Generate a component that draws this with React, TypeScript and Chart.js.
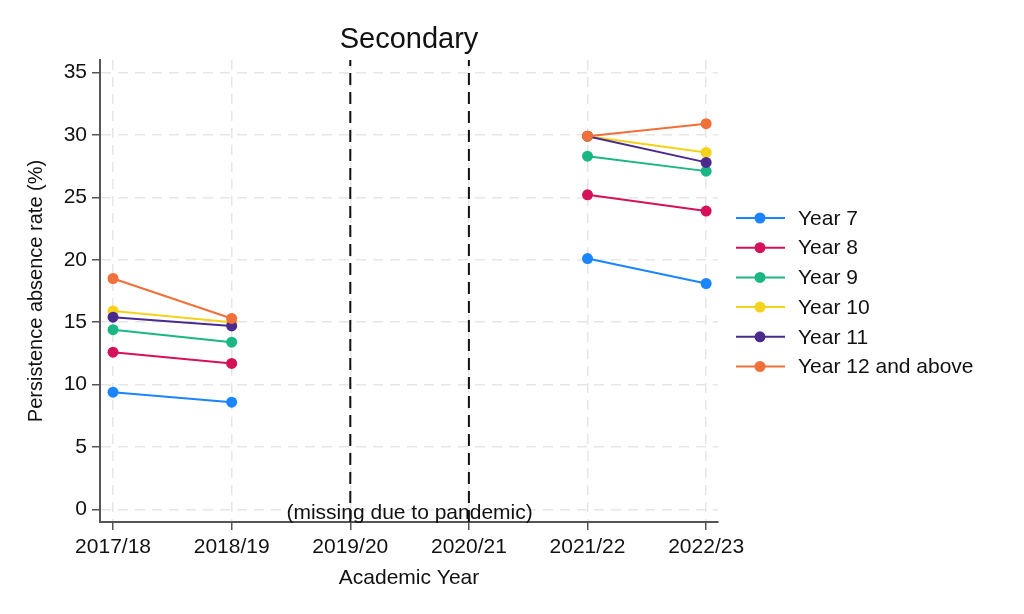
import { useEffect, useRef } from "react";
import { Chart, registerables } from "chart.js";

Chart.register(...registerables);

const FONT = '"Liberation Sans", Arial, Helvetica, sans-serif';

// Academic years on the x axis
const years = ["2017/18", "2018/19", "2019/20", "2020/21", "2021/22", "2022/23"];

// Persistent absence rate (%) by year group, null = no data (pandemic)
const year7 = [9.4, 8.6, null, null, 20.1, 18.1];
const year8 = [12.6, 11.7, null, null, 25.2, 23.9];
const year9 = [14.4, 13.4, null, null, 28.3, 27.1];
const year10 = [15.9, 15.0, null, null, 29.9, 28.6];
const year11 = [15.4, 14.7, null, null, 29.9, 27.8];
const year12 = [18.5, 15.3, null, null, 29.9, 30.9];

const seriesNames = ["Year 7", "Year 8", "Year 9", "Year 10", "Year 11", "Year 12 and above"];
const seriesValues = [year7, year8, year9, year10, year11, year12];
const seriesColors = ["#1a85ff", "#d41159", "#1ab785", "#f5d21a", "#4b2a8e", "#f0703a"];

// Years with no data, marked by dashed reference lines
const missingYears = [2, 3];
const missingLabel = "(missing due to pandemic)";

const yTicksMin = -1;
const yTicksMax = 36;

const toPoints = (values: (number | null)[]) =>
  values.map((v, i) => ({ x: i, y: v }));

const App = () => {
  const canvasRef = useRef<HTMLCanvasElement>(null);
  const chartRef = useRef<Chart | null>(null);

  useEffect(() => {
    if (!canvasRef.current) return;
    if (chartRef.current) chartRef.current.destroy();

    Chart.defaults.font.family = FONT;

    const lineDatasets = seriesNames.map((name, i) => ({
      label: name,
      data: toPoints(seriesValues[i]),
      borderColor: seriesColors[i],
      backgroundColor: seriesColors[i],
      pointBackgroundColor: seriesColors[i],
      pointBorderColor: seriesColors[i],
      pointRadius: 5.5,
      pointBorderWidth: 0,
      borderWidth: 2,
      spanGaps: false,
      showLine: true,
      order: seriesNames.length - i,
    }));

    const refDatasets = missingYears.map((yr) => ({
      label: "ref",
      data: [
        { x: yr, y: yTicksMin },
        { x: yr, y: yTicksMax },
      ],
      borderColor: "#111",
      borderWidth: 2,
      borderDash: [12, 7],
      pointRadius: 0,
      showLine: true,
      order: 100,
    }));

    // Title, missing-data note and legend
    const decor = {
      id: "decor",
      afterDraw(chart: Chart) {
        const { ctx, chartArea, scales } = chart;
        const xs = scales.x;
        const ys = scales.y;
        ctx.save();
        ctx.fillStyle = "#111";
        ctx.textAlign = "center";
        ctx.textBaseline = "middle";
        ctx.font = `29px ${FONT}`;
        ctx.fillText("Secondary", (chartArea.left + chartArea.right) / 2, 40);

        ctx.font = `21px ${FONT}`;
        ctx.fillText(
          missingLabel,
          xs.getPixelForValue((missingYears[0] + missingYears[1]) / 2),
          ys.getPixelForValue(-0.3)
        );

        // legend
        ctx.textAlign = "left";
        seriesNames.forEach((name, i) => {
          const y = 218 + i * 29.7;
          ctx.strokeStyle = seriesColors[i];
          ctx.lineWidth = 2;
          ctx.beginPath();
          ctx.moveTo(736, y);
          ctx.lineTo(785, y);
          ctx.stroke();
          ctx.fillStyle = seriesColors[i];
          ctx.beginPath();
          ctx.arc(760, y, 5.5, 0, Math.PI * 2);
          ctx.fill();
          ctx.fillStyle = "#111";
          ctx.fillText(name, 798, y + 1);
        });
        ctx.restore();
      },
    };

    const gridOpts = {
      color: "#e6e6e6",
      lineWidth: 1.5,
      tickColor: "#555",
      tickLength: 8,
      tickWidth: 1.5,
      drawTicks: true,
    };
    const borderOpts = { display: true, color: "#555", width: 2, dash: [10, 7] };

    chartRef.current = new Chart(canvasRef.current, {
      type: "scatter",
      data: { datasets: [...lineDatasets, ...refDatasets] as any },
      options: {
        responsive: true,
        maintainAspectRatio: false,
        animation: false,
        layout: { padding: { top: 60, right: 306, left: 0, bottom: 0 } },
        plugins: {
          legend: { display: false },
          tooltip: { enabled: false },
          title: { display: false },
        },
        scales: {
          x: {
            type: "linear",
            min: -0.11,
            max: 5.1,
            afterFit: (s: any) => {
              s.height = 92;
            },
            ticks: {
              stepSize: 1,
              includeBounds: false,
              autoSkip: false,
              maxRotation: 0,
              color: "#111",
              font: { size: 21 },
              padding: 5,
              callback: (v: any) => years[Math.round(Number(v))] ?? "",
            },
            grid: gridOpts,
            border: borderOpts,
            title: {
              display: true,
              text: "Academic Year",
              color: "#111",
              font: { size: 21 },
              padding: { top: 0, bottom: 23 },
            },
          },
          y: {
            type: "linear",
            min: yTicksMin,
            max: yTicksMax,
            afterFit: (s: any) => {
              s.width = 100;
            },
            ticks: {
              stepSize: 5,
              includeBounds: false,
              color: "#111",
              font: { size: 21 },
              padding: 5,
            },
            grid: gridOpts,
            border: borderOpts,
            title: {
              display: true,
              text: "Persistence absence rate (%)",
              color: "#111",
              font: { size: 20 },
              padding: { top: 24, bottom: 0 },
            },
          },
        },
      },
      plugins: [decor],
    });

    return () => {
      if (chartRef.current) {
        chartRef.current.destroy();
        chartRef.current = null;
      }
    };
  }, []);

  return (
    <div
      style={{
        position: "absolute",
        left: 0,
        top: 0,
        width: 1024,
        height: 614,
        background: "#fff",
      }}
    >
      <canvas ref={canvasRef} />
    </div>
  );
};

export default App;
